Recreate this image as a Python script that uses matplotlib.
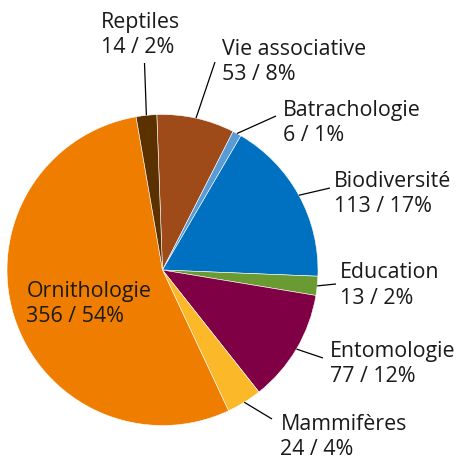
import numpy as np
import matplotlib
matplotlib.use("Agg")
import matplotlib.pyplot as plt

# Activities of the association, number of records per theme
categories = ["Vie associative", "Batrachologie", "Biodiversité", "Education",
              "Entomologie", "Mammifères", "Ornithologie", "Reptiles"]
values = [53, 6, 113, 13, 77, 24, 356, 14]
colors = ["#9e4b19", "#5b9bd5", "#0070c0", "#6a9a32",
          "#800046", "#fbb829", "#ef7d00", "#5c3100"]

W, H = 459, 457
plt.rcParams["font.family"] = ["Open Sans", "DejaVu Sans"]

fig = plt.figure(figsize=(W / 100, H / 100), dpi=100)
ax = fig.add_axes([0, 0, 1, 1])

cx, cy, r = 162.5, H - 270, 155.5
start = 92.1
wedges, _ = ax.pie(values, colors=colors, startangle=start, counterclock=False,
                   center=(cx, cy), radius=r, frame=True,
                   wedgeprops=dict(linewidth=0.4, edgecolor="white"))
ax.set_xlim(0, W)
ax.set_ylim(0, H)
ax.set_aspect("equal")
ax.axis("off")

total = sum(values)
fs = 15.4
txt_color = "#1a1a1a"
line_gap = 25.3

# label layout: (text left x, first baseline y from top, leader end x, leader end y from top)
layout = {
    "Reptiles":        (101, 28, 144.5, 63),
    "Vie associative": (222, 55, 215, 62),
    "Batrachologie":   (283, 116, 276, 116),
    "Biodiversité":    (334, 187, 330, 188),
    "Education":       (340, 278.5, 336, 284),
    "Entomologie":     (330, 357, 323, 358),
    "Mammifères":      (280.5, 430, 272, 419),
}

for w, name, v in zip(wedges, categories, values):
    pct = round(v / total * 100)
    label2 = f"{v} / {pct}%"
    if name == "Ornithologie":
        ax.text(26.5, H - 297, name, fontsize=fs, color=txt_color, va="baseline", ha="left")
        ax.text(26.5, H - 297 - line_gap, label2, fontsize=fs, color=txt_color,
                va="baseline", ha="left")
        continue
    tx, ty, lx, ly = layout[name]
    mid = np.deg2rad((w.theta1 + w.theta2) / 2)
    px, py = cx + r * np.cos(mid), cy + r * np.sin(mid)
    ax.plot([px, lx], [py, H - ly], color="black", lw=0.9, solid_capstyle="butt")
    ax.text(tx, H - ty, name, fontsize=fs, color=txt_color, va="baseline", ha="left")
    ax.text(tx, H - ty - line_gap, label2, fontsize=fs, color=txt_color,
            va="baseline", ha="left")

fig.savefig("out.png", dpi=100)
